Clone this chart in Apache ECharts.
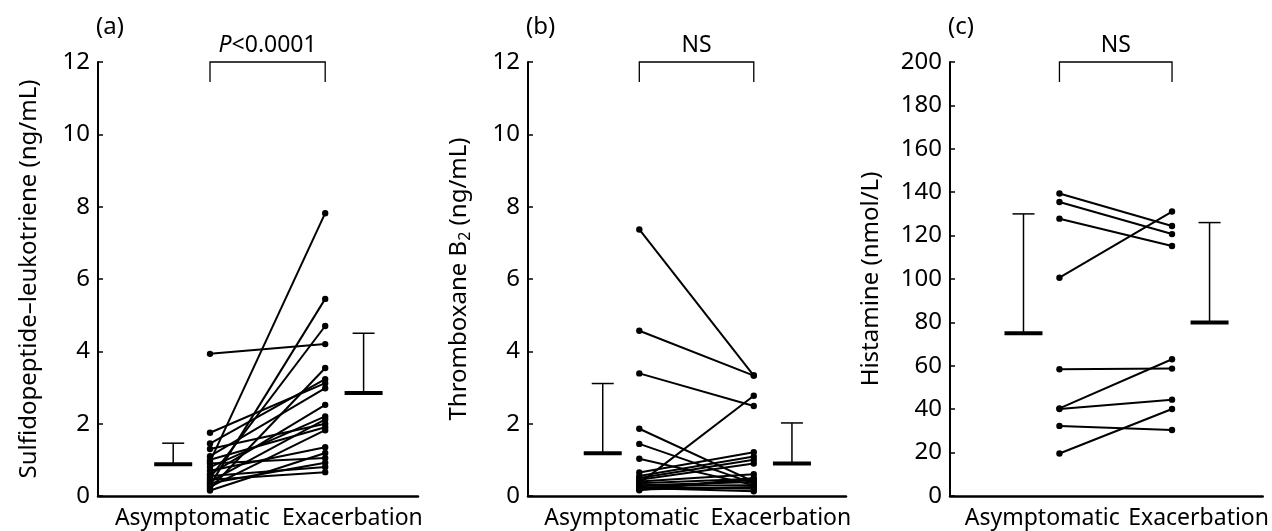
<!DOCTYPE html>
<html>
<head>
<meta charset="utf-8">
<script src="https://cdn.jsdelivr.net/npm/echarts@6/dist/echarts.min.js"></script>
<style>
  html, body { margin: 0; padding: 0; background: #fff; }
  #main { width: 1272px; height: 531px; }
</style>
</head>
<body>
<div id="main"></div>
<script>
var groups = ['Asymptomatic', 'Exacerbation'];

// (a) sulfidopeptide-leukotriene, ng/mL (paired patients)
var ltAsym = [0.95, 1.75, 0.3, 1.45, 3.93, 0.5, 1.1, 0.2, 1.3, 0.6, 0.8, 0.4, 1.0, 0.25, 0.7, 0.15, 0.9, 0.35, 0.55, 0.45];
var ltExac = [7.82, 3.12, 5.45, 3.23, 4.2, 4.7, 2.98, 3.54, 2.0, 2.52, 2.2, 2.12, 1.9, 1.82, 1.35, 1.19, 1.05, 0.92, 0.8, 0.66];
var ltMean = [0.88, 2.85];
var ltSd = [0.58, 1.65];

// (b) thromboxane B2, ng/mL
var txAsym = [7.37, 4.57, 3.39, 0.35, 1.86, 1.44, 1.03, 0.65, 0.55, 0.5, 0.45, 0.4, 0.35, 0.3, 0.28, 0.25, 0.22, 0.2, 0.18, 0.16];
var txExac = [3.33, 3.33, 2.49, 2.77, 0.4, 0.35, 0.3, 1.21, 1.09, 1.0, 0.9, 0.6, 0.48, 0.39, 0.3, 0.2, 0.13, 0.45, 0.25, 0.5];
var txMean = [1.18, 0.9];
var txSd = [1.93, 1.12];

// (c) histamine, nmol/L
var hiAsym = [139.4, 135.5, 127.8, 100.6, 58.4, 40.4, 40.1, 32.3, 19.6];
var hiExac = [124.4, 120.7, 115.2, 131.1, 58.7, 63.0, 44.4, 30.4, 40.1];
var hiMean = [75, 80];
var hiSd = [55, 46];

var panelLetters = ['(a)', '(b)', '(c)'];
var bracketText = ['{i|P}<0.0001', 'NS', 'NS'];
var yNames = ['Sulfidopeptide–leukotriene (ng/mL)', 'Thromboxane B{sub|2} (ng/mL)', 'Histamine (nmol/L)'];
var yMax = [12, 12, 200];
var yStep = [2, 2, 20];

// horizontal placement inside each panel (0..1 along the x axis)
var PT_X = [0.35, 0.71];
var MEAN_X = [0.235, 0.83];
var LABEL_X = [0.295, 0.795];

var FONT = 'Noto Sans';
var grids = [
  { left: 98, right: 854, top: 62, bottom: 35 },
  { left: 528, right: 426, top: 62, bottom: 35 },
  { left: 950, right: 6, top: 62, bottom: 35 }
];
var nameGaps = [57, 55, 67];

function pairItem(params, api) {
  var a = api.coord([PT_X[0], api.value(0)]);
  var b = api.coord([PT_X[1], api.value(1)]);
  return {
    type: 'group',
    children: [
      { type: 'line', shape: { x1: a[0], y1: a[1], x2: b[0], y2: b[1] }, style: { stroke: '#000', lineWidth: 2 } },
      { type: 'circle', shape: { cx: a[0], cy: a[1], r: 3.2 }, style: { fill: '#000' } },
      { type: 'circle', shape: { cx: b[0], cy: b[1], r: 3.2 }, style: { fill: '#000' } }
    ]
  };
}

function meanItem(params, api) {
  var x = MEAN_X[params.dataIndex];
  var m = api.coord([x, api.value(0)]);
  var t = api.coord([x, api.value(0) + api.value(1)]);
  return {
    type: 'group',
    children: [
      { type: 'line', shape: { x1: m[0] - 19, y1: m[1], x2: m[0] + 19, y2: m[1] }, style: { stroke: '#000', lineWidth: 4 } },
      { type: 'line', shape: { x1: m[0], y1: m[1], x2: m[0], y2: t[1] }, style: { stroke: '#000', lineWidth: 1.5 } },
      { type: 'line', shape: { x1: m[0] - 11, y1: t[1], x2: m[0] + 11, y2: t[1] }, style: { stroke: '#000', lineWidth: 1.5 } }
    ]
  };
}

function bracketItem(k) {
  return function (params, api) {
    var l = api.coord([PT_X[0], yMax[k]]);
    var r = api.coord([PT_X[1], yMax[k]]);
    return {
      type: 'group',
      children: [
        { type: 'polyline', shape: { points: [[l[0], l[1] + 20], [l[0], l[1]], [r[0], r[1]], [r[0], r[1] + 20]] },
          style: { stroke: '#000', lineWidth: 1.3, fill: null } },
        { type: 'text', x: (l[0] + r[0]) / 2, y: l[1] - 5,
          style: { text: bracketText[k], align: 'center', verticalAlign: 'bottom', fill: '#000',
                   font: '23px "' + FONT + '"',
                   rich: { i: { fontStyle: 'italic', fontSize: 23, fontFamily: FONT } } } }
      ]
    };
  };
}

var pairs = [
  ltAsym.map(function (v, i) { return [v, ltExac[i]]; }),
  txAsym.map(function (v, i) { return [v, txExac[i]]; }),
  hiAsym.map(function (v, i) { return [v, hiExac[i]]; })
];
var means = [
  ltMean.map(function (v, i) { return [v, ltSd[i]]; }),
  txMean.map(function (v, i) { return [v, txSd[i]]; }),
  hiMean.map(function (v, i) { return [v, hiSd[i]]; })
];

var xAxes = [], yAxes = [], series = [], titles = [];
for (var k = 0; k < 3; k++) {
  titles.push({
    text: panelLetters[k], left: grids[k].left - 7, top: 10,
    textStyle: { fontSize: 24, fontWeight: 'normal', color: '#000', fontFamily: FONT }
  });
  xAxes.push({
    gridIndex: k, type: 'value', min: 0, max: 1,
    axisLine: { show: true, lineStyle: { color: '#000', width: 2.5 } },
    axisTick: { show: false },
    splitLine: { show: false },
    axisLabel: {
      customValues: LABEL_X, color: '#000', fontSize: 23, margin: 11, fontFamily: FONT,
      hideOverlap: false,
      formatter: function (v) { return v < 0.5 ? groups[0] : groups[1]; }
    }
  });
  yAxes.push({
    gridIndex: k, type: 'value', min: 0, max: yMax[k], interval: yStep[k],
    axisLine: { show: true, lineStyle: { color: '#000', width: 2 } },
    axisTick: { show: true, inside: true, length: 5, lineStyle: { color: '#000', width: 1.5 } },
    splitLine: { show: false },
    axisLabel: { color: '#000', fontSize: 24, margin: 8, fontFamily: FONT },
    name: yNames[k], nameLocation: 'middle', nameGap: nameGaps[k],
    nameTextStyle: {
      color: '#000', fontSize: 24, fontFamily: FONT,
      rich: { sub: { fontSize: 16, fontFamily: FONT, color: '#000', verticalAlign: 'bottom', padding: [12, 0, 0, 0] } }
    }
  });
  series.push({ type: 'custom', xAxisIndex: k, yAxisIndex: k, renderItem: pairItem, data: pairs[k], silent: true });
  series.push({ type: 'custom', xAxisIndex: k, yAxisIndex: k, renderItem: meanItem, data: means[k], silent: true });
  series.push({ type: 'custom', xAxisIndex: k, yAxisIndex: k, renderItem: bracketItem(k), data: [[0, 0]], silent: true, clip: false });
}

var chart = echarts.init(document.getElementById('main'));
chart.setOption({
  animation: false,
  backgroundColor: '#fff',
  title: titles,
  grid: grids,
  xAxis: xAxes,
  yAxis: yAxes,
  series: series
});
</script>
</body>
</html>
